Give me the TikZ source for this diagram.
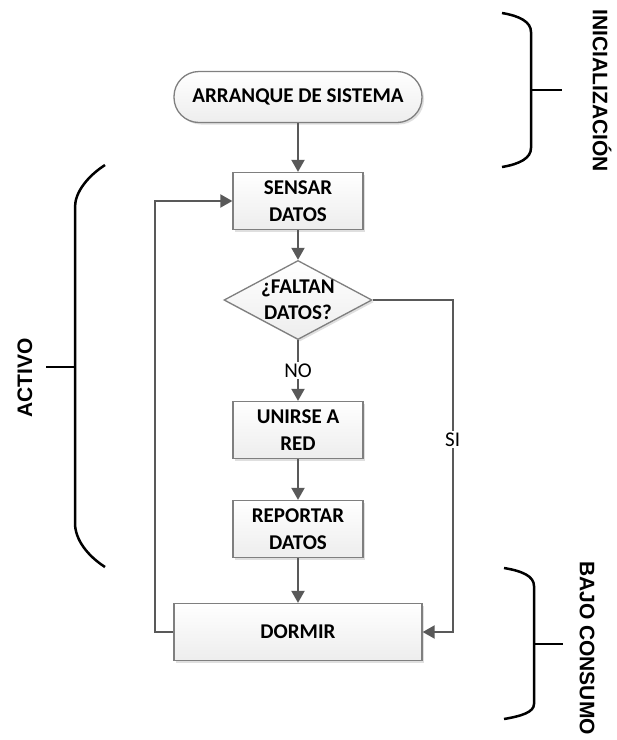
\documentclass[tikz,border=0pt]{standalone}
\usepackage{fontspec}
\setmainfont{Carlito}
\newfontfamily\phasefont{Liberation Sans}
\usetikzlibrary{shapes.geometric, positioning, arrows.meta, shadows}
\definecolor{boxedge}{HTML}{7F7F7F}
\definecolor{flowgray}{HTML}{595959}

\begin{document}
\begin{tikzpicture}[
    x=1pt, y=-1pt,
    process/.style={draw=boxedge, line width=1.3pt, rectangle, minimum width=130pt, minimum height=57pt, align=center, top color=white, bottom color=gray!14, drop shadow={shadow xshift=2pt, shadow yshift=-2pt, opacity=0.25}, font=\bfseries\fontsize{21}{27}\selectfont},
    startstop/.style={process, rounded corners=25pt, minimum width=248pt, minimum height=51pt},
    decision/.style={draw=boxedge, line width=1.3pt, diamond, aspect=1.87, inner sep=0pt, minimum width=148pt, minimum height=79pt, align=center, top color=white, bottom color=gray!14, drop shadow={shadow xshift=2pt, shadow yshift=-2pt, opacity=0.25}, font=\bfseries\fontsize{21}{26}\selectfont},
    flow/.style={draw=flowgray, line width=2pt, -{Triangle[length=12pt, width=13pt]}},
    flowlabel/.style={fill=white, inner sep=2pt, text=black, font=\fontsize{21}{24}\selectfont},
    phase/.style={line width=2.5pt, black},
    phaselabel/.style={font=\phasefont\bfseries\fontsize{21}{24}\selectfont}
]
    \useasboundingbox[fill=white] (0,0) rectangle (617,740);

    % --- Flow steps ---
    \node[startstop] (arranque) at (298,97) {ARRANQUE DE SISTEMA};
    \node[process] (sensar) at (298,201) {SENSAR\\DATOS};
    \node[decision] (faltan) at (298,300) {¿FALTAN\\DATOS?};
    \node[process] (unirse) at (298,430) {UNIRSE A\\RED};
    \node[process] (reportar) at (298,529) {REPORTAR\\DATOS};
    \node[process, minimum width=248pt] (dormir) at (298,632) {DORMIR};

    % --- Connections ---
    \draw[flow] (arranque) -- (sensar);
    \draw[flow] (sensar) -- (faltan);
    \draw[flow] (faltan) -- node[flowlabel] {NO} (unirse);
    \draw[flow] (unirse) -- (reportar);
    \draw[flow] (reportar) -- (dormir);
    % SI branch goes round to DORMIR
    \draw[flow] (faltan.east) -- ++(80,0) |- node[flowlabel, pos=0.21] {SI} (dormir.east);
    % back to SENSAR
    \draw[flow] (dormir.west) -- ++(-18,0) |- (sensar.west);

    % --- Phase braces ---
    \draw[phase] (502,13) .. controls (520,16) and (531,22) .. (531,32) -- (531,148) .. controls (531,158) and (520,164) .. (502,167);
    \draw[phase] (531,90) -- (562,90);
    \draw[phase] (105,165) .. controls (88,176) and (75,192) .. (75,207) -- (75,523) .. controls (75,540) and (88,556) .. (105,567);
    \draw[phase] (75,367) -- (46,367);
    \draw[phase] (504,568) .. controls (522,571) and (534,576) .. (534,586) -- (534,704) .. controls (534,712) and (522,716) .. (504,719);
    \draw[phase] (534,644) -- (563,644);

    % --- Labels ---
    \node[phaselabel, rotate=-90] (inicial) at (602,91) {INICIALIZACIÓN};
    \node[phaselabel, rotate=90] (activo) at (25,378) {ACTIVO};
    \node[phaselabel, rotate=-90] (bajo) at (587,648) {BAJO CONSUMO};

\end{tikzpicture}
\end{document}
